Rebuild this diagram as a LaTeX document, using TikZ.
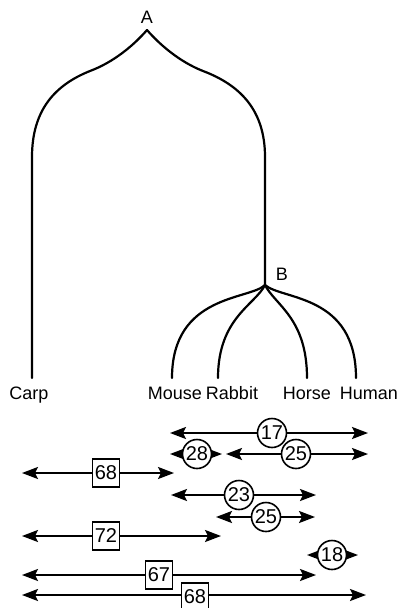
\documentclass[tikz,border=0pt]{standalone}
\usepackage{fontspec}
\setmainfont{Liberation Sans}
\usetikzlibrary{arrows.meta}
\tikzset{
  tree/.style={line width=2.2pt, line cap=round},
  lbl/.style={anchor=base, inner sep=0pt, font=\fontsize{18}{20}\selectfont},
  dbl/.style={line width=2.2pt, {Stealth[length=16pt,width=12pt,inset=3pt]}-{Stealth[length=16pt,width=12pt,inset=3pt]}},
  circ/.style={circle, draw, line width=1.6pt, fill=white, minimum size=29pt, inner sep=0pt, font=\fontsize{20}{20}\selectfont},
  sq/.style={rectangle, draw, line width=1.6pt, fill=white, minimum width=27pt, minimum height=28pt, inner sep=0pt, font=\fontsize{20}{20}\selectfont},
}
\begin{document}
\begin{tikzpicture}[x=1pt,y=-1pt]
\useasboundingbox (0,0) rectangle (402,608);
% tree
\coordinate (A) at (147,30);
\coordinate (B) at (265,285);
\coordinate (cL) at (32,157);
\coordinate (cR) at (265,157);
\coordinate (carp) at (32,378);
\coordinate (mouse) at (172,378);
\coordinate (rabbit) at (218,378);
\coordinate (horse) at (307,378);
\coordinate (human) at (356,378);
\node[lbl] (Alab) at (147,23) {A};
\node[lbl] (Blab) at (282,280) {B};
\draw[tree] (A) .. controls (134,45) and (114,62) .. (90,71)
  .. controls (55,85) and (32,110) .. (cL) -- (carp);
\draw[tree] (A) .. controls (160,45) and (180,62) .. (203,71)
  .. controls (240,85) and (265,110) .. (cR) -- (B);
\draw[tree] (B) .. controls (250,300) and (172,294) .. (mouse);
\draw[tree] (B) .. controls (255,305) and (218,318) .. (rabbit);
\draw[tree] (B) .. controls (275,305) and (307,318) .. (horse);
\draw[tree] (B) .. controls (282,300) and (356,294) .. (human);
\node[lbl] (tcarp) at (29,399) {Carp};
\node[lbl] (tmouse) at (175,399) {Mouse};
\node[lbl] (trabbit) at (232,399) {Rabbit};
\node[lbl] (thorse) at (307,399) {Horse};
\node[lbl] (thuman) at (369,399) {Human};
% bars
\coordinate (r1l) at (170,433); \coordinate (r1r) at (368,433);
\coordinate (r2l) at (170,454); \coordinate (r2r) at (222,454);
\coordinate (r2bl) at (226,454); \coordinate (r2br) at (368,454);
\coordinate (r3l) at (22,473); \coordinate (r3r) at (174,473);
\coordinate (r4l) at (171,495); \coordinate (r4r) at (316,495);
\coordinate (r5l) at (216,517); \coordinate (r5r) at (315,517);
\coordinate (r6l) at (22,536); \coordinate (r6r) at (221,536);
\coordinate (r7l) at (307,555); \coordinate (r7r) at (358,555);
\coordinate (r8l) at (22,575); \coordinate (r8r) at (316,575);
\coordinate (r9l) at (22,595); \coordinate (r9r) at (366,595);
\draw[dbl] (r1l) -- (r1r);
\draw[dbl] (r2l) -- (r2r);
\draw[dbl] (r2bl) -- (r2br);
\draw[dbl] (r3l) -- (r3r);
\draw[dbl] (r4l) -- (r4r);
\draw[dbl] (r5l) -- (r5r);
\draw[dbl] (r6l) -- (r6r);
\draw[dbl] (r7l) -- (r7r);
\draw[dbl] (r8l) -- (r8r);
\draw[dbl] (r9l) -- (r9r);
\node[circ] (n17) at (272,433) {17};
\node[circ] (n28) at (197,454) {28};
\node[circ] (n25a) at (296,454) {25};
\node[sq] (n68a) at (106,473) {68};
\node[circ] (n23) at (239,495) {23};
\node[circ] (n25b) at (266,517) {25};
\node[sq] (n72) at (106,536) {72};
\node[circ] (n18) at (332,555) {18};
\node[sq] (n67) at (159,575) {67};
\node[sq] (n68b) at (195,597) {68};
\end{tikzpicture}
\end{document}
